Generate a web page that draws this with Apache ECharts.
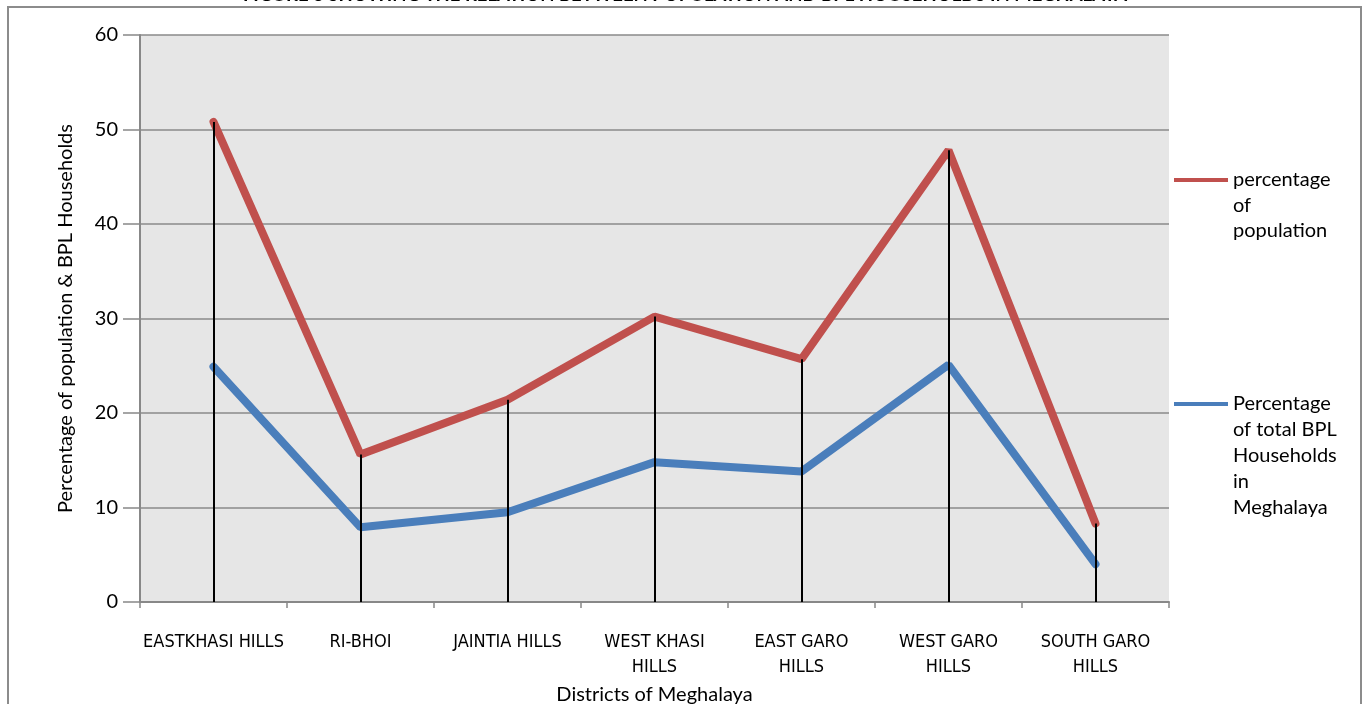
<!DOCTYPE html>
<html>
<head>
<meta charset="utf-8">
<script src="https://cdn.jsdelivr.net/npm/echarts@6/dist/echarts.min.js"></script>
<style>
  html, body { margin: 0; padding: 0; background: #ffffff; }
  #chart { width: 1366px; height: 704px; }
</style>
</head>
<body>
<div id="chart"></div>
<script>
// Districts of Meghalaya (axis categories)
const districts = [
  'EASTKHASI HILLS',
  'RI-BHOI',
  'JAINTIA HILLS',
  'WEST KHASI\nHILLS',
  'EAST GARO\nHILLS',
  'WEST GARO\nHILLS',
  'SOUTH GARO\nHILLS'
];

// Percentage of population per district
const populationPct = [50.8, 15.6, 21.4, 30.2, 25.7, 47.8, 8.3];

// Percentage of total BPL households in Meghalaya per district
const bplPct = [24.9, 7.9, 9.5, 14.8, 13.8, 25.1, 4.0];

// Value axis ticks
const yTicks = [0, 10, 20, 30, 40, 50, 60];

const popName = 'percentage of population';
const bplName = 'Percentage of total BPL Households in Meghalaya';
const legendLines = {};
legendLines[popName] = 'percentage\nof\npopulation';
legendLines[bplName] = 'Percentage\nof total BPL\nHouseholds\nin\nMeghalaya';

const RED = '#C0504D';
const BLUE = '#4A7EBB';
const FONT = 'Lato';

const chart = echarts.init(document.getElementById('chart'));

// Drop lines from each population value down to the category axis
const dropLines = districts.map((d, i) => [
  { coord: [i, populationPct[i]] },
  { coord: [i, 0] }
]);

const legendCommon = {
  orient: 'vertical',
  left: 1174,
  padding: 0,
  itemWidth: 54,
  icon: 'rect',
  textStyle: { fontFamily: FONT, fontSize: 20, color: '#000', lineHeight: 25.5 },
  formatter: name => legendLines[name],
  selectedMode: false
};

chart.setOption({
  animation: false,
  backgroundColor: '#ffffff',
  textStyle: { fontFamily: FONT },
  graphic: [
    {
      type: 'rect',
      z: -10,
      shape: { x: 8, y: 7, width: 1353, height: 720 },
      style: { fill: 'none', stroke: '#8c8c8c', lineWidth: 2 }
    },
    {
      type: 'text',
      x: 685,
      y: -14,
      style: {
        text: 'FIGURE 3 SHOWING THE RELATION BETWEEN POPULATION AND BPL HOUSEHOLDS IN MEGHALAYA',
        fontFamily: FONT,
        fontWeight: 'bold',
        fontSize: 18.5,
        fill: '#000',
        align: 'center',
        verticalAlign: 'top'
      }
    }
  ],
  legend: [
    Object.assign({}, legendCommon, {
      top: 167,
      itemHeight: 77,
      data: [{ name: popName, icon: 'path://M0,11H54V15H0Z M0,0H0.01V0.01H0Z M0,77H0.01V76.99H0Z' }]
    }),
    Object.assign({}, legendCommon, {
      top: 391,
      itemHeight: 130,
      textStyle: { fontFamily: FONT, fontSize: 20, color: '#000', lineHeight: 26 },
      data: [{ name: bplName, icon: 'path://M0,11H54V15H0Z M0,0H0.01V0.01H0Z M0,130H0.01V129.99H0Z' }]
    })
  ],
  grid: {
    left: 140,
    top: 35,
    right: 197,
    bottom: 102,
    show: true,
    backgroundColor: '#e6e6e6',
    borderWidth: 0,
    containLabel: false,
    outerBoundsMode: 'none'
  },
  xAxis: {
    type: 'category',
    data: districts,
    boundaryGap: true,
    name: 'Districts of Meghalaya',
    nameLocation: 'middle',
    nameGap: 71,
    nameTextStyle: { fontFamily: FONT, fontSize: 20, color: '#000' },
    axisLine: { show: true, lineStyle: { color: '#888888', width: 2 } },
    axisTick: { show: true, alignWithLabel: false, length: 6, lineStyle: { color: '#888888', width: 1.5 } },
    axisLabel: {
      interval: 0,
      margin: 28,
      fontFamily: 'DejaVu Sans Condensed',
      fontSize: 18,
      lineHeight: 25,
      color: '#000'
    },
    splitLine: { show: false }
  },
  yAxis: {
    type: 'value',
    min: 0,
    max: 60,
    interval: 10,
    name: 'Percentage of population & BPL Households',
    nameLocation: 'middle',
    nameGap: 64,
    nameRotate: 90,
    nameTextStyle: { fontFamily: FONT, fontSize: 20, color: '#000' },
    axisLine: { show: true, lineStyle: { color: '#888888', width: 2 } },
    axisTick: { show: true, length: 17, inside: false, lineStyle: { color: '#888888', width: 1.5 } },
    axisLabel: {
      margin: 22,
      fontFamily: FONT,
      fontSize: 20,
      color: '#000',
      formatter: v => (yTicks.indexOf(v) >= 0 ? String(v) : '')
    },
    splitLine: { show: true, lineStyle: { color: '#8a8a8a', width: 1.5 } }
  },
  series: [
    {
      name: bplName,
      type: 'line',
      data: bplPct,
      showSymbol: false,
      symbol: 'none',
      z: 3,
      lineStyle: { color: BLUE, width: 8, cap: 'round' },
      itemStyle: { color: BLUE }
    },
    {
      name: popName,
      type: 'line',
      data: populationPct,
      showSymbol: false,
      symbol: 'none',
      z: 4,
      lineStyle: { color: RED, width: 8, cap: 'round' },
      itemStyle: { color: RED }
    },
    {
      name: 'drop',
      type: 'line',
      data: populationPct,
      showSymbol: false,
      symbol: 'none',
      z: 6,
      silent: true,
      lineStyle: { opacity: 0 },
      markLine: {
        silent: true,
        symbol: 'none',
        label: { show: false },
        lineStyle: { color: '#000000', width: 2, type: 'solid' },
        emphasis: { disabled: true },
        data: dropLines
      }
    }
  ]
});
</script>
</body>
</html>
